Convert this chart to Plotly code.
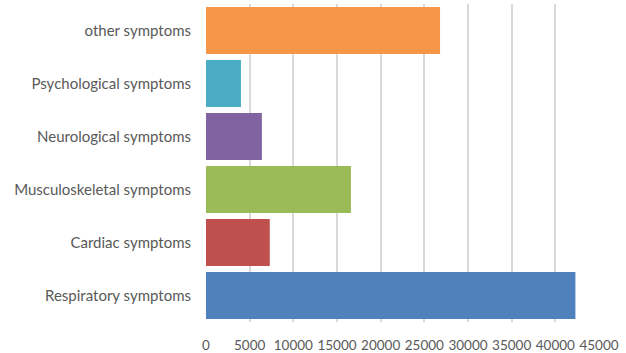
import plotly.graph_objects as go

categories = ["Respiratory symptoms", "Cardiac symptoms", "Musculoskeletal symptoms",
              "Neurological symptoms", "Psychological symptoms", "other symptoms"]
values = [42300, 7300, 16600, 6400, 4000, 26800]
colors = ["#4F81BD", "#C0504D", "#9BBB59", "#8064A2", "#4BACC6", "#F79646"]
x_ticks = [0, 5000, 10000, 15000, 20000, 25000, 30000, 35000, 40000, 45000]

fig = go.Figure(go.Bar(
    x=values, y=categories, orientation="h",
    marker=dict(color=colors, line=dict(width=0)),
))

font = dict(family="Lato, 'Open Sans', sans-serif", size=15, color="#595959")
xfont = dict(family="Lato, 'Open Sans', sans-serif", size=13.5, color="#595959")
fig.update_layout(
    width=626, height=353,
    margin=dict(l=206, r=27, t=4, b=31),
    paper_bgcolor="white", plot_bgcolor="white",
    bargap=0.113,
    font=font,
    showlegend=False,
    xaxis=dict(range=[0, 45000], tickvals=x_ticks, ticktext=[str(v) for v in x_ticks],
               showgrid=True, gridcolor="#D9D9D9", gridwidth=1.5,
               zeroline=False, showline=False, ticks="", ticklabelstandoff=13,
               tickangle=0, tickfont=xfont, fixedrange=True, automargin=False),
    yaxis=dict(categoryorder="array", categoryarray=categories,
               showgrid=False, zeroline=False, showline=False, ticks="",
               ticklabelstandoff=14, tickfont=font, fixedrange=True, automargin=False),
)
fig.write_html("out.html", config={"displayModeBar": False},
               post_script="document.body.style.margin='0px';document.body.style.overflow='hidden';")
